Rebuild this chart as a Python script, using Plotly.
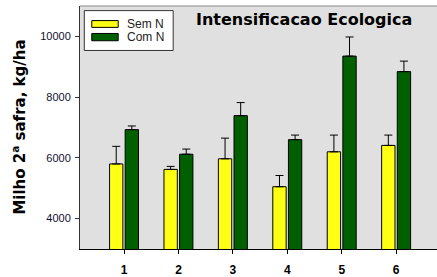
import plotly.graph_objects as go

categories = [1, 2, 3, 4, 5, 6]
sem_n = [5800, 5620, 5970, 5050, 6200, 6410]
sem_n_err = [580, 100, 680, 370, 550, 340]
com_n = [6930, 6120, 7390, 6600, 9350, 8840]
com_n_err = [120, 170, 430, 150, 630, 345]
y_ticks = [4000, 6000, 8000, 10000]
y_tick_labels = ["4000", "6000", "8000", "10000"]

fig = go.Figure()
fig.add_trace(go.Bar(
    x=categories, y=sem_n, name="Sem N", width=0.245, offset=-0.267,
    marker=dict(color="#ffff14", line=dict(color="black", width=1)),
    error_y=dict(type="data", symmetric=False, array=sem_n_err,
                 arrayminus=[0] * len(sem_n), color="black", thickness=1, width=4),
    showlegend=False,
))
fig.add_trace(go.Bar(
    x=categories, y=com_n, name="Com N", width=0.245, offset=0.02,
    marker=dict(color="#006000", line=dict(color="black", width=1)),
    error_y=dict(type="data", symmetric=False, array=com_n_err,
                 arrayminus=[0] * len(com_n), color="black", thickness=1, width=4),
    showlegend=False,
))

# manual legend
shapes = [
    dict(type="line", xref="paper", yref="paper", x0=0, x1=1, y0=1, y1=1,
         line=dict(color="#888888", width=1)),
    dict(type="rect", xref="paper", yref="paper", x0=0.012, x1=0.261, y0=0.817, y1=0.981,
         fillcolor="white", line=dict(color="#333333", width=1)),
    dict(type="rect", xref="paper", yref="paper", x0=0.033, x1=0.107, y0=0.912, y1=0.940,
         fillcolor="#ffff14", line=dict(color="black", width=1)),
    dict(type="rect", xref="paper", yref="paper", x0=0.033, x1=0.107, y0=0.857, y1=0.887,
         fillcolor="#006000", line=dict(color="black", width=1)),
]
annotations = [
    dict(text="Sem N", xref="paper", yref="paper", x=0.126, y=0.926, xanchor="left",
         yanchor="middle", showarrow=False, font=dict(size=12, color="#222222")),
    dict(text="Com N", xref="paper", yref="paper", x=0.126, y=0.873, xanchor="left",
         yanchor="middle", showarrow=False, font=dict(size=12, color="#222222")),
    dict(text="<b>Intensificacao Ecologica</b>", xref="paper", yref="paper", x=0.627, y=0.943,
         xanchor="center", yanchor="middle", showarrow=False,
         font=dict(size=16, color="black", family="DejaVu Sans, sans-serif")),
    dict(text="<b>Milho 2<sup>a</sup> safra, kg/ha</b>", xref="paper", yref="paper",
         x=-0.172, y=0.502, xanchor="center", yanchor="middle", textangle=-90,
         showarrow=False, font=dict(size=15, color="black", family="DejaVu Sans, sans-serif")),
]

fig.update_layout(
    width=437, height=277,
    margin=dict(l=80, r=0, t=6, b=25),
    paper_bgcolor="white", plot_bgcolor="#e0e0e0",
    font=dict(family="Liberation Sans, Arial, sans-serif", color="black"),
    shapes=shapes, annotations=annotations,
    xaxis=dict(range=[0.19, 6.75], tickvals=categories, ticktext=[f"<b>{c}</b>" for c in categories],
               ticks="outside", ticklen=4, tickcolor="black", showline=True,
               linecolor="black", linewidth=1, showgrid=False, zeroline=False,
               tickfont=dict(size=12, color="black"), ticklabelstandoff=6),
    yaxis=dict(range=[3000, 11000], tickvals=y_ticks, ticktext=y_tick_labels,
               ticks="outside", ticklen=4,
               tickcolor="#333333", showline=True, linecolor="#333333", linewidth=1,
               showgrid=False, zeroline=False, tickfont=dict(size=11, color="#101030"),
               ticklabelstandoff=2),
)

fig.write_html("out.html", config={"displayModeBar": False},
               post_script="document.body.style.margin='0';document.body.style.overflow='hidden';")
